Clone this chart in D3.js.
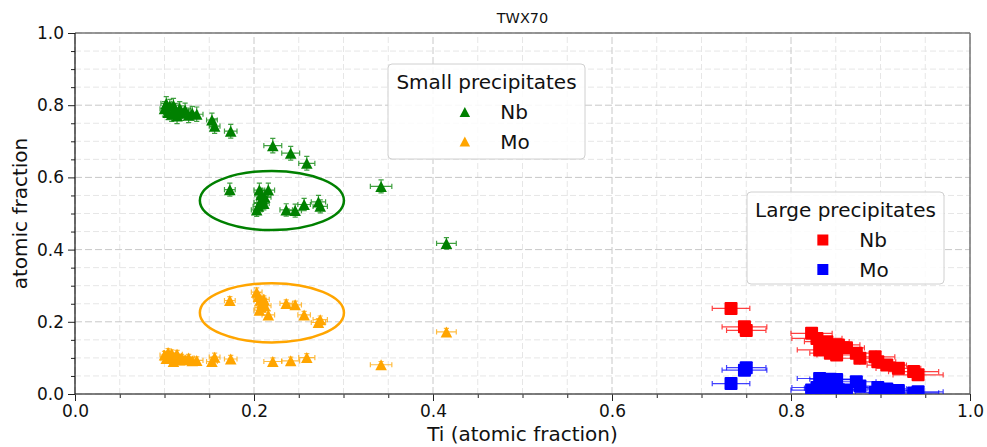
<!DOCTYPE html>
<html>
<head>
<meta charset="utf-8">
<script src="https://cdn.jsdelivr.net/npm/d3@7"></script>
<style>
    body { margin: 0; background: #fff; }
    svg text { font-family: "DejaVu Sans", sans-serif; fill: #111; }
</style>
</head>
<body>
<div id="chart"></div>
<script>
// small precipitates: Ti with Nb and Mo (atomic fraction)
var smallTi    = [0.100, 0.102, 0.104, 0.106, 0.108, 0.110, 0.112, 0.114, 0.117, 0.119, 0.123, 0.127, 0.131, 0.136, 0.153, 0.156, 0.174, 0.221, 0.241, 0.259, 0.173, 0.203, 0.205, 0.207, 0.209, 0.208, 0.206, 0.212, 0.216, 0.211, 0.236, 0.246, 0.256, 0.272, 0.274, 0.342, 0.415];
var smallTiErr = [0.005, 0.006, 0.005, 0.006, 0.005, 0.006, 0.005, 0.006, 0.006, 0.005, 0.006, 0.006, 0.006, 0.007, 0.006, 0.006, 0.007, 0.010, 0.010, 0.009, 0.006, 0.006, 0.006, 0.007, 0.006, 0.007, 0.006, 0.007, 0.007, 0.006, 0.007, 0.007, 0.007, 0.008, 0.008, 0.012, 0.011];
var smallNb    = [0.790, 0.805, 0.780, 0.798, 0.775, 0.800, 0.785, 0.770, 0.791, 0.778, 0.787, 0.772, 0.778, 0.775, 0.759, 0.742, 0.728, 0.688, 0.667, 0.639, 0.566, 0.510, 0.520, 0.530, 0.540, 0.552, 0.565, 0.545, 0.565, 0.528, 0.510, 0.508, 0.525, 0.532, 0.520, 0.575, 0.417];
var smallNbErr = [0.020, 0.019, 0.020, 0.018, 0.020, 0.019, 0.020, 0.021, 0.019, 0.020, 0.019, 0.020, 0.019, 0.020, 0.019, 0.020, 0.019, 0.020, 0.019, 0.019, 0.018, 0.018, 0.019, 0.018, 0.019, 0.018, 0.019, 0.018, 0.019, 0.018, 0.017, 0.018, 0.017, 0.018, 0.018, 0.018, 0.016];
var smallMo    = [0.108, 0.098, 0.115, 0.100, 0.112, 0.090, 0.103, 0.110, 0.094, 0.100, 0.095, 0.100, 0.092, 0.093, 0.090, 0.102, 0.097, 0.090, 0.092, 0.101, 0.259, 0.282, 0.270, 0.260, 0.250, 0.240, 0.232, 0.245, 0.219, 0.262, 0.251, 0.247, 0.219, 0.198, 0.206, 0.081, 0.172];
var smallMoErr = [0.010, 0.010, 0.011, 0.010, 0.010, 0.009, 0.010, 0.011, 0.010, 0.010, 0.009, 0.010, 0.010, 0.010, 0.010, 0.011, 0.010, 0.010, 0.010, 0.011, 0.011, 0.012, 0.011, 0.011, 0.010, 0.011, 0.010, 0.011, 0.011, 0.010, 0.010, 0.010, 0.010, 0.011, 0.010, 0.009, 0.010];

// large precipitates
var largeTi    = [0.733, 0.748, 0.750, 0.823, 0.829, 0.832, 0.840, 0.844, 0.851, 0.853, 0.862, 0.873, 0.877, 0.894, 0.897, 0.907, 0.920, 0.937, 0.942];
var largeTiErr = [0.021, 0.025, 0.022, 0.023, 0.028, 0.025, 0.025, 0.023, 0.022, 0.024, 0.020, 0.022, 0.020, 0.022, 0.020, 0.022, 0.025, 0.028, 0.028];
var largeNb    = [0.237, 0.186, 0.176, 0.168, 0.154, 0.122, 0.145, 0.113, 0.108, 0.136, 0.128, 0.113, 0.099, 0.103, 0.089, 0.080, 0.071, 0.062, 0.053];
var largeNbErr = [0.004, 0.005, 0.004, 0.004, 0.004, 0.004, 0.004, 0.004, 0.004, 0.004, 0.004, 0.004, 0.004, 0.004, 0.004, 0.003, 0.003, 0.003, 0.003];
var largeMo    = [0.029, 0.066, 0.073, 0.011, 0.018, 0.043, 0.016, 0.041, 0.040, 0.012, 0.011, 0.034, 0.022, 0.004, 0.018, 0.014, 0.010, 0.003, 0.006];
var largeMoErr = [0.003, 0.004, 0.004, 0.003, 0.003, 0.003, 0.003, 0.003, 0.003, 0.003, 0.003, 0.003, 0.003, 0.003, 0.003, 0.003, 0.003, 0.003, 0.003];

// highlighted groups (center x, center y, width, height)
var ellipseCx = [0.22, 0.22];
var ellipseCy = [0.536, 0.225];
var ellipseW = [0.161, 0.161];
var ellipseH = [0.164, 0.164];
var ellipseColor = ["green", "orange"];

var xTicks = [0, 0.2, 0.4, 0.6, 0.8, 1.0];
var yTicks = [0, 0.2, 0.4, 0.6, 0.8, 1.0];

{
    var width = 987;
    var height = 447;
    var margin = { top: 33, right: 17, bottom: 53, left: 75 };

    var svg = d3.select("#chart").append("svg")
        .attr("width", width)
        .attr("height", height);

    var x = d3.scaleLinear().domain([0, 1]).range([margin.left, width - margin.right]);
    var y = d3.scaleLinear().domain([0, 1]).range([height - margin.bottom, margin.top]);

    var minor = d3.range(0, 1.0001, 0.05).filter(v => Math.abs(v * 5 - Math.round(v * 5)) > 1e-6);

    svg.append("clipPath").attr("id", "plot-clip")
        .append("rect")
        .attr("x", x(0)).attr("y", y(1))
        .attr("width", x(1) - x(0)).attr("height", y(0) - y(1));

    // grid
    var grid = svg.append("g");
    grid.selectAll(".vminor").data(minor).enter().append("line")
        .attr("x1", d => x(d)).attr("x2", d => x(d))
        .attr("y1", y(0)).attr("y2", y(1))
        .attr("stroke", "#e6e6e6").attr("stroke-dasharray", "6,3");
    grid.selectAll(".hminor").data(minor).enter().append("line")
        .attr("y1", d => y(d)).attr("y2", d => y(d))
        .attr("x1", x(0)).attr("x2", x(1))
        .attr("stroke", "#e6e6e6").attr("stroke-dasharray", "6,3");
    grid.selectAll(".vmajor").data(xTicks).enter().append("line")
        .attr("x1", d => x(d)).attr("x2", d => x(d))
        .attr("y1", y(0)).attr("y2", y(1))
        .attr("stroke", "#c8c8c8").attr("stroke-dasharray", "7,3");
    grid.selectAll(".hmajor").data(yTicks).enter().append("line")
        .attr("y1", d => y(d)).attr("y2", d => y(d))
        .attr("x1", x(0)).attr("x2", x(1))
        .attr("stroke", "#c8c8c8").attr("stroke-dasharray", "7,3");

    // axes
    var fmt = d3.format(".1f");
    var gx = svg.append("g")
        .attr("transform", `translate(0,${y(0)})`)
        .call(d3.axisBottom(x).tickValues(xTicks).tickFormat(fmt).tickSize(7).tickPadding(4));
    svg.append("g")
        .attr("transform", `translate(0,${y(0)})`)
        .call(d3.axisBottom(x).tickValues(minor).tickFormat("").tickSize(4))
        .call(g => g.select(".domain").remove());
    var gy = svg.append("g")
        .attr("transform", `translate(${x(0)},0)`)
        .call(d3.axisLeft(y).tickValues(yTicks).tickFormat(fmt).tickSize(7).tickPadding(4));
    svg.append("g")
        .attr("transform", `translate(${x(0)},0)`)
        .call(d3.axisLeft(y).tickValues(minor).tickFormat("").tickSize(4))
        .call(g => g.select(".domain").remove());

    svg.selectAll(".tick text").style("font-size", "17px").style("font-family", "DejaVu Sans");
    svg.selectAll(".tick line").attr("stroke", "#222");
    gx.select(".domain").remove();
    gy.select(".domain").remove();

    // frame
    svg.append("line").attr("x1", x(0)).attr("x2", x(1)).attr("y1", y(1)).attr("y2", y(1)).attr("stroke", "#777").attr("stroke-width", 1.5);
    svg.append("line").attr("x1", x(1)).attr("x2", x(1)).attr("y1", y(0)).attr("y2", y(1)).attr("stroke", "#777").attr("stroke-width", 1.5);
    svg.append("line").attr("x1", x(0)).attr("x2", x(1)).attr("y1", y(0)).attr("y2", y(0)).attr("stroke", "#555").attr("stroke-width", 1.5);
    svg.append("line").attr("x1", x(0)).attr("x2", x(0)).attr("y1", y(0)).attr("y2", y(1)).attr("stroke", "#111").attr("stroke-width", 1.2);

    var plot = svg.append("g").attr("clip-path", "url(#plot-clip)");

    function triangle(s) {
        return `M0,${-s}L${s * 1.05},${s}L${-s * 1.05},${s}Z`;
    }

    function drawSeries(xs, xe, ys, ye, color, shape) {
        var rows = xs.map((v, i) => ({ x: v, xe: xe[i], y: ys[i], ye: ye[i] }));
        var cap = 2.6;
        var bars = plot.append("g")
            .attr("stroke", color)
            .attr("stroke-width", 1.2)
            .attr("stroke-opacity", 0.75)
            .attr("fill", "none");
        bars.selectAll("path").data(rows).enter().append("path")
            .attr("d", d => {
                var x0 = x(d.x - d.xe), x1 = x(d.x + d.xe), cy = y(d.y);
                var y0 = y(d.y - d.ye), y1 = y(d.y + d.ye), cx = x(d.x);
                return `M${x0},${cy}H${x1}M${x0},${cy - cap}V${cy + cap}M${x1},${cy - cap}V${cy + cap}` +
                    `M${cx},${y0}V${y1}M${cx - cap},${y0}H${cx + cap}M${cx - cap},${y1}H${cx + cap}`;
            });
        var marks = plot.append("g").attr("fill", color);
        if (shape === "triangle") {
            marks.selectAll("path").data(rows).enter().append("path")
                .attr("transform", d => `translate(${x(d.x)},${y(d.y)})`)
                .attr("d", triangle(5.5));
        } else {
            marks.selectAll("rect").data(rows).enter().append("rect")
                .attr("x", d => x(d.x) - 6.5).attr("y", d => y(d.y) - 6.5)
                .attr("width", 13).attr("height", 13)
                .attr("rx", 1);
        }
    }

    drawSeries(smallTi, smallTiErr, smallNb, smallNbErr, "green", "triangle");
    drawSeries(smallTi, smallTiErr, smallMo, smallMoErr, "orange", "triangle");
    drawSeries(largeTi, largeTiErr, largeNb, largeNbErr, "red", "square");
    drawSeries(largeTi, largeTiErr, largeMo, largeMoErr, "blue", "square");

    // ellipses round the groups
    plot.selectAll("ellipse").data(ellipseCx).enter().append("ellipse")
        .attr("cx", d => x(d))
        .attr("cy", (d, i) => y(ellipseCy[i]))
        .attr("rx", (d, i) => (x(ellipseW[i]) - x(0)) / 2)
        .attr("ry", (d, i) => (y(0) - y(ellipseH[i])) / 2)
        .attr("fill", "none")
        .attr("stroke", (d, i) => ellipseColor[i])
        .attr("stroke-width", 2.5);

    // legends
    function legend(left, top, w, h, title, names, colors, shape) {
        var g = svg.append("g").attr("transform", `translate(${left},${top})`);
        g.append("rect")
            .attr("width", w).attr("height", h)
            .attr("rx", 4)
            .attr("fill", "white").attr("fill-opacity", 0.85)
            .attr("stroke", "#d0d0d0");
        g.append("text")
            .attr("x", w / 2).attr("y", 25)
            .attr("text-anchor", "middle")
            .style("font-size", "20px")
            .text(title);
        names.forEach((n, i) => {
            var cy = 48 + i * 29.5;
            if (shape === "triangle") {
                g.append("path")
                    .attr("transform", `translate(${w * 0.39},${cy})`)
                    .attr("d", triangle(5))
                    .attr("fill", colors[i]);
            } else {
                g.append("rect")
                    .attr("x", w * 0.385 - 5.5).attr("y", cy - 5.5)
                    .attr("width", 11).attr("height", 11)
                    .attr("fill", colors[i]);
            }
            g.append("text")
                .attr("x", w * 0.57).attr("y", cy + 7)
                .style("font-size", "20px")
                .text(n);
        });
    }

    legend(388, 64, 197, 95, "Small precipitates", ["Nb", "Mo"], ["green", "orange"], "triangle");
    legend(747, 192, 197, 92, "Large precipitates", ["Nb", "Mo"], ["red", "blue"], "square");

    // titles
    svg.append("text")
        .attr("x", (x(0) + x(1)) / 2).attr("y", 23)
        .attr("text-anchor", "middle")
        .style("font-size", "14.5px")
        .text("TWX70");

    svg.append("text")
        .attr("x", (x(0) + x(1)) / 2).attr("y", 441)
        .attr("text-anchor", "middle")
        .style("font-size", "20px")
        .text("Ti (atomic fraction)");

    svg.append("text")
        .attr("transform", `translate(27,${(y(0) + y(1)) / 2}) rotate(-90)`)
        .attr("text-anchor", "middle")
        .style("font-size", "20px")
        .text("atomic fraction");
}
</script>
</body>
</html>
